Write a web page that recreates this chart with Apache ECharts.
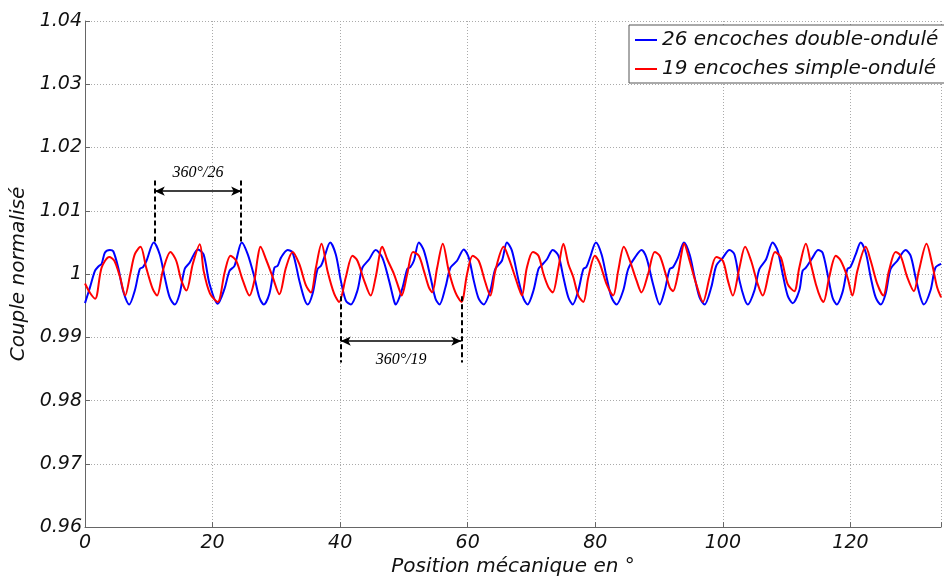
<!DOCTYPE html>
<html>
<head>
<meta charset="utf-8">
<script src="https://cdn.jsdelivr.net/npm/echarts@6/dist/echarts.min.js"></script>
<style>
  html, body { margin: 0; padding: 0; background: #fff; }
  #chart { width: 944px; height: 582px; }
</style>
</head>
<body>
<div id="chart"></div>
<script>
// position (deg) / torque readings, 26 slots double-wave winding
const blueX = [0, 0.78, 1.56, 2.1, 2.6, 3.13, 3.91, 4.43, 5.21, 5.99, 6.93, 7.81, 8.59, 9.1, 9.64, 10.78, 11.72, 12.5, 13.28, 14.06, 14.84, 15.63, 16.41, 17.71, 18.59, 19.53, 20.8,
  21.88, 22.66, 23.44, 24.58, 25.52, 26.56, 27.34, 28.02, 28.91, 29.69, 30.2, 30.73, 31.77, 32.55, 33.59, 34.38, 34.9, 35.68, 36.46, 37.0, 37.5, 38.44, 39.32, 40.1, 40.89, 41.67, 42.71, 43.49, 44.53,
  45.57, 46.61, 47.66, 48.44, 48.7, 49.74, 50.52, 51.0, 51.56, 52.34, 53.13, 54.17, 54.95, 55.57, 56.51, 57.29, 58.33, 59.38, 60.16, 60.94, 61.72, 62.5, 63.54, 64.32, 65.36, 66.15, 66.93,
  67.97, 68.75, 69.38, 70.31, 71.09, 71.6, 72.4, 73.33, 74.22, 75.0, 75.78, 76.46, 77.34, 78.13, 78.6, 79.17, 80.1, 80.99, 81.77, 82.55, 83.33, 84.38, 85.16, 86.2, 87.24, 88.02, 89.06, 90.1,
  90.89, 91.67, 92.2, 92.97, 93.91, 94.79, 95.57, 96.35, 97.14, 98.18, 98.96, 100.0, 101.04, 101.82, 102.6, 103.39, 103.91, 104.95, 105.73, 106.77, 107.81, 108.59, 109.38, 110.16, 110.94, 111.98, 112.5, 113.02,
  114.06, 114.95, 115.63, 116.41, 117.19, 117.86, 118.75, 119.53, 120.0, 120.83, 121.61, 122.4, 123.18, 123.96, 124.74, 125.52, 126.3, 127.34, 128.65, 129.43, 130.21, 130.99, 131.51, 132.55, 133.33, 134.22];
const blueY = [0.9954, 0.9979, 1.0005, 1.0012, 1.0016, 1.0034, 1.0038, 1.0036, 1.0010, 0.9973, 0.9952, 0.9974, 1.0008, 1.0011, 1.0021, 1.0050, 1.0031, 0.9995, 0.9963, 0.9952, 0.9969, 1.0008, 1.0018, 1.0039, 1.0031, 0.9984, 0.9953,
  0.9977, 1.0005, 1.0013, 1.0050, 1.0031, 0.9995, 0.9963, 0.9952, 0.9969, 1.0010, 1.0013, 1.0026, 1.0038, 1.0034, 0.9990, 0.9961, 0.9952, 0.9969, 1.0008, 1.0013, 1.0026, 1.0050, 1.0031, 0.9990, 0.9958, 0.9952, 0.9974, 1.0010, 1.0023,
  1.0038, 1.0026, 0.9990, 0.9958, 0.9952, 0.9977, 1.0008, 1.0011, 1.0021, 1.0050, 1.0037, 0.9995, 0.9961, 0.9952, 0.9979, 1.0010, 1.0021, 1.0039, 1.0026, 0.9990, 0.9961, 0.9952, 0.9974, 1.0008, 1.0021, 1.0050, 1.0037,
  0.9990, 0.9961, 0.9952, 0.9974, 1.0008, 1.0014, 1.0023, 1.0038, 1.0029, 0.9995, 0.9963, 0.9952, 0.9974, 1.0008, 1.0011, 1.0026, 1.0050, 1.0031, 0.9995, 0.9963, 0.9952, 0.9974, 1.0008, 1.0026, 1.0038, 1.0026, 0.9984, 0.9952,
  0.9974, 1.0008, 1.0011, 1.0026, 1.0050, 1.0031, 0.9995, 0.9963, 0.9952, 0.9979, 1.0013, 1.0026, 1.0038, 1.0031, 0.9990, 0.9961, 0.9952, 0.9974, 1.0008, 1.0023, 1.0050, 1.0037, 1.0000, 0.9966, 0.9954, 0.9974, 1.0005, 1.0010,
  1.0026, 1.0038, 1.0034, 1.0000, 0.9963, 0.9952, 0.9971, 1.0008, 1.0011, 1.0031, 1.0050, 1.0034, 0.9995, 0.9963, 0.9952, 0.9969, 1.0008, 1.0021, 1.0038, 1.0029, 0.9995, 0.9963, 0.9952, 0.9974, 1.0010, 1.0016];

// 19 slots single-wave winding
const redX = [0, 0.8, 1.6, 2.6, 3.8, 4.6, 5.5, 6.3, 7.1, 7.8, 8.7, 9.6, 10.6, 11.3, 12.2, 13.4, 14.3, 15.1, 15.9, 16.9, 18.0, 18.6, 19.6, 20.8, 21.9,
  22.81, 23.7, 24.74, 25.78, 26.56, 27.08, 27.5, 28.39, 29.43, 30.47, 31.5, 32.55, 33.59, 34.64, 35.42, 36.2, 37.08, 38.02, 39.06, 39.84, 40.89, 41.93, 42.71, 43.75, 44.79,
  45.57, 46.61, 47.4, 48.44, 49.22, 49.64, 50.52, 51.41, 52.34, 53.13, 53.91, 54.43, 55.21, 56.09, 57.03, 58.07, 59.01, 59.9, 60.78, 61.72, 62.76, 63.54, 64.32, 65.63, 66.41, 67.45,
  67.97, 68.49, 69.27, 70.21, 71.09, 71.88, 72.66, 73.33, 74.22, 75.0, 75.78, 76.56, 77.34, 78.13, 78.91, 79.95, 80.73, 81.77, 82.81, 83.59, 84.48, 85.42, 86.46, 87.24, 88.28, 89.32,
  90.1, 90.89, 91.67, 92.19, 92.97, 93.49, 93.91, 94.79, 95.83, 96.88, 97.92, 98.96, 100.0, 100.78, 101.56, 102.6, 103.49, 104.43, 105.47, 106.25, 107.29, 108.18, 109.11, 110.16, 111.2, 111.98, 113.02,
  113.8, 114.58, 115.36, 115.78, 116.67, 117.71, 118.49, 119.53, 120.31, 121.09, 122.4, 123.18, 124.22, 125.16, 126.04, 127.08, 127.86, 128.91, 129.95, 130.73, 131.93, 132.81, 133.59, 134.22];
const redY = [0.9985, 0.9970, 0.9961, 1.0010, 1.0027, 1.0021, 0.9995, 0.9966, 1.0000, 1.0031, 1.0043, 1.0010, 0.9977, 0.9966, 1.0005, 1.0035, 1.0021, 0.9990, 0.9974, 1.0016, 1.0047, 1.0005, 0.9969, 0.9956, 1.0003,
  1.0029, 1.0021, 0.9990, 0.9966, 0.9990, 1.0026, 1.0043, 1.0023, 0.9995, 0.9968, 1.0010, 1.0035, 1.0016, 0.9982, 0.9971, 1.0010, 1.0048, 1.0005, 0.9969, 0.9956, 0.9995, 1.0029, 1.0021, 0.9990, 0.9966,
  0.9995, 1.0043, 1.0023, 1.0000, 0.9977, 0.9966, 1.0000, 1.0035, 1.0029, 1.0005, 0.9979, 0.9971, 1.0010, 1.0048, 1.0005, 0.9971, 0.9956, 1.0000, 1.0029, 1.0021, 0.9987, 0.9966, 1.0005, 1.0043, 1.0026, 0.9995,
  0.9979, 0.9966, 1.0010, 1.0035, 1.0029, 1.0000, 0.9979, 0.9971, 1.0010, 1.0048, 1.0016, 0.9995, 0.9966, 0.9956, 0.9995, 1.0029, 1.0016, 0.9984, 0.9966, 1.0005, 1.0043, 1.0021, 0.9990, 0.9971, 1.0000, 1.0035,
  1.0029, 1.0005, 0.9979, 0.9973, 1.0000, 1.0031, 1.0048, 1.0021, 0.9984, 0.9956, 0.9995, 1.0027, 1.0021, 0.9990, 0.9966, 1.0010, 1.0043, 1.0021, 0.9984, 0.9966, 1.0005, 1.0035, 1.0026, 0.9984, 0.9973, 1.0010, 1.0048,
  1.0016, 0.9984, 0.9961, 0.9956, 0.9995, 1.0029, 1.0021, 0.9995, 0.9966, 1.0005, 1.0043, 1.0021, 0.9984, 0.9966, 1.0005, 1.0035, 1.0029, 0.9995, 0.9973, 1.0005, 1.0048, 1.0016, 0.9979, 0.9963];

const seriesNames = ['26 encoches double-ondulé', '19 encoches simple-ondulé'];

// period markers (x ends, arrow height, dashed span)
const span26X = [10.94, 24.48];
const span26Y = 1.0131;
const dash26 = [1.0148, 1.0049];
const span19X = [40.1, 59.0];
const span19Y = 0.9894;
const dash19 = [0.9965, 0.9860];

const pairs = (xs, ys) => xs.map((x, i) => [x, ys[i]]);

const font = 'DejaVu Sans';
const dashed = (x, y0, y1) => [
  { coord: [x, y0], symbol: 'none' },
  { coord: [x, y1], symbol: 'none', lineStyle: { type: [5, 3], width: 2, color: '#000' }, label: { show: false } }
];
const arrow = (x0, x1, y, text, pos, gap) => [
  { coord: [x0, y], symbol: 'arrow' },
  {
    coord: [x1, y], symbol: 'arrow',
    lineStyle: { type: 'solid', width: 1.5, color: '#000' },
    label: {
      show: true, formatter: text, position: pos, distance: gap,
      fontFamily: 'Liberation Serif', fontStyle: 'italic', fontSize: 16, color: '#000'
    }
  }
];

const chart = echarts.init(document.getElementById('chart'));
chart.setOption({
  animation: false,
  grid: { left: 85, right: 0, top: 21, bottom: 50 },
  legend: {
    data: seriesNames,
    orient: 'vertical',
    left: 629, top: 25,
    icon: 'rect', itemWidth: 22, itemHeight: 2, itemGap: 9,
    padding: [5, 20, 4, 6],
    borderColor: '#555', borderWidth: 1, backgroundColor: '#fff',
    textStyle: { fontFamily: font, fontStyle: 'italic', fontSize: 20, color: '#111' }
  },
  xAxis: {
    type: 'value', min: 0, max: 134.2, interval: 20,
    name: 'Position mécanique en °', nameLocation: 'middle', nameGap: 27,
    nameTextStyle: { fontFamily: font, fontStyle: 'italic', fontSize: 20, color: '#111' },
    axisLine: { lineStyle: { color: '#666' } },
    axisTick: { inside: true, length: 5, lineStyle: { color: '#666' } },
    axisLabel: {
      margin: 6, fontFamily: font, fontStyle: 'italic', fontSize: 19, color: '#111',
      formatter: v => (Math.abs(v % 20) < 1e-6 ? String(Math.round(v)) : '')
    },
    splitLine: { show: true, lineStyle: { type: [1, 2], color: '#aaa' } }
  },
  yAxis: {
    type: 'value', min: 0.96, max: 1.04, interval: 0.01,
    name: 'Couple normalisé', nameLocation: 'middle', nameGap: 53,
    nameTextStyle: { fontFamily: font, fontStyle: 'italic', fontSize: 20, color: '#111' },
    axisLine: { show: true, lineStyle: { color: '#666' } },
    axisTick: { show: true, inside: true, length: 5, lineStyle: { color: '#666' } },
    axisLabel: {
      margin: 3, fontFamily: font, fontStyle: 'italic', fontSize: 19, color: '#111',
      formatter: v => String(+v.toFixed(2))
    },
    splitLine: { show: true, lineStyle: { type: [1, 2], color: '#aaa' } }
  },
  series: [
    {
      name: seriesNames[0], type: 'line', data: pairs(blueX, blueY),
      showSymbol: false, smooth: 0.3,
      lineStyle: { color: '#0000ff', width: 2 }, itemStyle: { color: '#0000ff' }
    },
    {
      name: seriesNames[1], type: 'line', data: pairs(redX, redY),
      showSymbol: false, smooth: 0.3,
      lineStyle: { color: '#ff0000', width: 2 }, itemStyle: { color: '#ff0000' },
      markLine: {
        silent: true, symbolSize: [7, 10],
        data: [
          dashed(span26X[0], dash26[0], dash26[1]),
          dashed(span26X[1], dash26[0], dash26[1]),
          arrow(span26X[0], span26X[1], span26Y, '360°/26', 'insideMiddleTop', 10),
          dashed(span19X[0], dash19[0], dash19[1]),
          dashed(span19X[1], dash19[0], dash19[1]),
          arrow(span19X[0], span19X[1], span19Y, '360°/19', 'insideMiddleBottom', 11)
        ]
      }
    }
  ]
});
</script>
</body>
</html>
